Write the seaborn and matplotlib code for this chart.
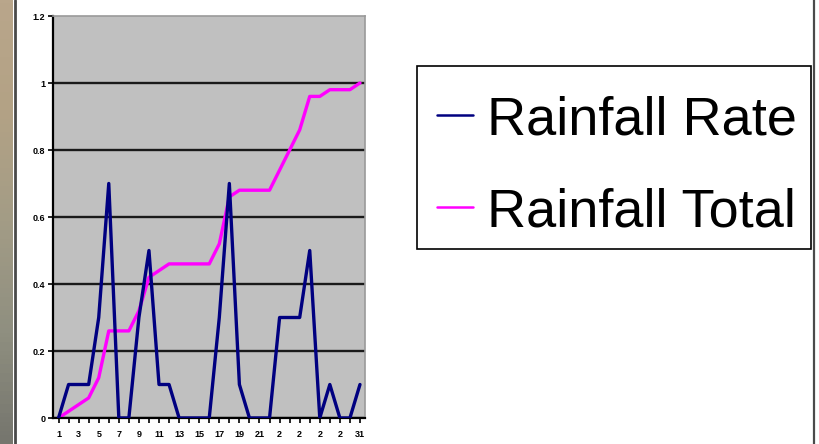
import numpy as np
import matplotlib
matplotlib.use("Agg")
import matplotlib.pyplot as plt
from matplotlib.lines import Line2D
from matplotlib.patches import Rectangle
from matplotlib.colors import LinearSegmentedColormap
import seaborn as sns

# Daily rainfall for one month
days = list(range(1, 32))
rainfall_rate = [0.0, 0.1, 0.1, 0.1, 0.3, 0.7, 0.0, 0.0, 0.3, 0.5,
                 0.1, 0.1, 0.0, 0.0, 0.0, 0.0, 0.3, 0.7, 0.1, 0.0,
                 0.0, 0.0, 0.3, 0.3, 0.3, 0.5, 0.0, 0.1, 0.0, 0.0, 0.1]
rainfall_total = [0.0, 0.02, 0.04, 0.06, 0.12, 0.26, 0.26, 0.26, 0.32, 0.42,
                  0.44, 0.46, 0.46, 0.46, 0.46, 0.46, 0.52, 0.66, 0.68, 0.68,
                  0.68, 0.68, 0.74, 0.80, 0.86, 0.96, 0.96, 0.98, 0.98, 0.98, 1.0]

x_ticks = [1, 3, 5, 7, 9, 11, 13, 15, 17, 19, 21, 23, 25, 27, 29, 31]
x_tick_labels = ["1", "3", "5", "7", "9", "11", "13", "15", "17", "19",
                 "21", "2", "2", "2", "2", "31"]
y_ticks = [0, 0.2, 0.4, 0.6, 0.8, 1.0, 1.2]
y_tick_labels = ["0", "0.2", "0.4", "0.6", "0.8", "1", "1.2"]

sns.set_style("white")
plt.rcParams["font.family"] = ["Liberation Sans", "DejaVu Sans"]
plt.rcParams["text.color"] = "black"
plt.rcParams["xtick.color"] = "black"
plt.rcParams["ytick.color"] = "black"
plt.rcParams["legend.labelcolor"] = "black"

W, H = 819, 444
fig = plt.figure(figsize=(W / 100, H / 100), dpi=100, facecolor="white")

# photo backdrop strip on the far left
bg = fig.add_axes([0, 0, 13 / W, 1])
strip = LinearSegmentedColormap.from_list(
    "strip", ["#b9a68b", "#b3a285", "#a39c86", "#8f8f80", "#76766e"])
bg.imshow(np.linspace(0, 1, 100).reshape(-1, 1), aspect="auto", cmap=strip,
          extent=[0, 1, 0, 1], origin="upper")
bg.set_axis_off()

# chart frame edges
fig.add_artist(Line2D([14.5 / W, 14.5 / W], [0, 1], color="#4a4a4a", lw=2.0))
fig.add_artist(Line2D([814 / W, 814 / W], [0, 1], color="#4a4a4a", lw=1.6))

# legend box outline, drawn beneath the axes layer
fig.add_artist(Rectangle((417 / W, 1 - 249 / H), 394 / W, 183 / H,
                         transform=fig.transFigure, facecolor="white",
                         edgecolor="black", lw=1.2, zorder=-1))

ax = fig.add_axes([53 / W, 1 - 418 / H, 312 / W, 402 / H])
ax.set_facecolor("#c0c0c0")

sns.lineplot(x=days, y=rainfall_rate, ax=ax, color="#000080", lw=2.4,
             label="Rainfall Rate", zorder=3)
sns.lineplot(x=days, y=rainfall_total, ax=ax, color="#ff00ff", lw=2.4,
             label="Rainfall Total", zorder=2)

ax.set_xlim(0.45, 31.5)
ax.set_ylim(0, 1.2)
ax.set_xlabel("")
ax.set_ylabel("")

ax.set_xticks(x_ticks)
ax.set_xticklabels(x_tick_labels, fontsize=6.5, fontweight="bold", color="black")
ax.set_xticks(days, minor=True)
ax.set_yticks(y_ticks)
ax.set_yticklabels(y_tick_labels, fontsize=6.5, fontweight="bold", color="black")
ax.tick_params(axis="both", which="both", direction="out", length=3.5,
               width=1.2, color="black", left=True, bottom=True)
ax.tick_params(axis="x", pad=5)
ax.tick_params(axis="y", pad=2)

ax.set_axisbelow(True)
ax.yaxis.grid(True, color="#1a1a1a", lw=1.7)
ax.yaxis.get_gridlines()[-1].set_visible(False)
ax.xaxis.grid(False)

for side in ("left", "bottom"):
    ax.spines[side].set_color("black")
    ax.spines[side].set_linewidth(1.6)
for side in ("top", "right"):
    ax.spines[side].set_color("#9a9a9a")
    ax.spines[side].set_linewidth(1.2)

leg = ax.legend(loc="upper left", bbox_to_anchor=(417 / W, 1 - 75 / H),
                bbox_transform=fig.transFigure, fontsize=39, frameon=False,
                handlelength=0.66, handletextpad=0.26,
                borderpad=0.37, labelspacing=0.775, borderaxespad=0)
for text in leg.get_texts():
    text.set_color("black")
for line in leg.get_lines():
    line.set_linewidth(1.8)

fig.savefig("out.png", dpi=100, facecolor="white")
